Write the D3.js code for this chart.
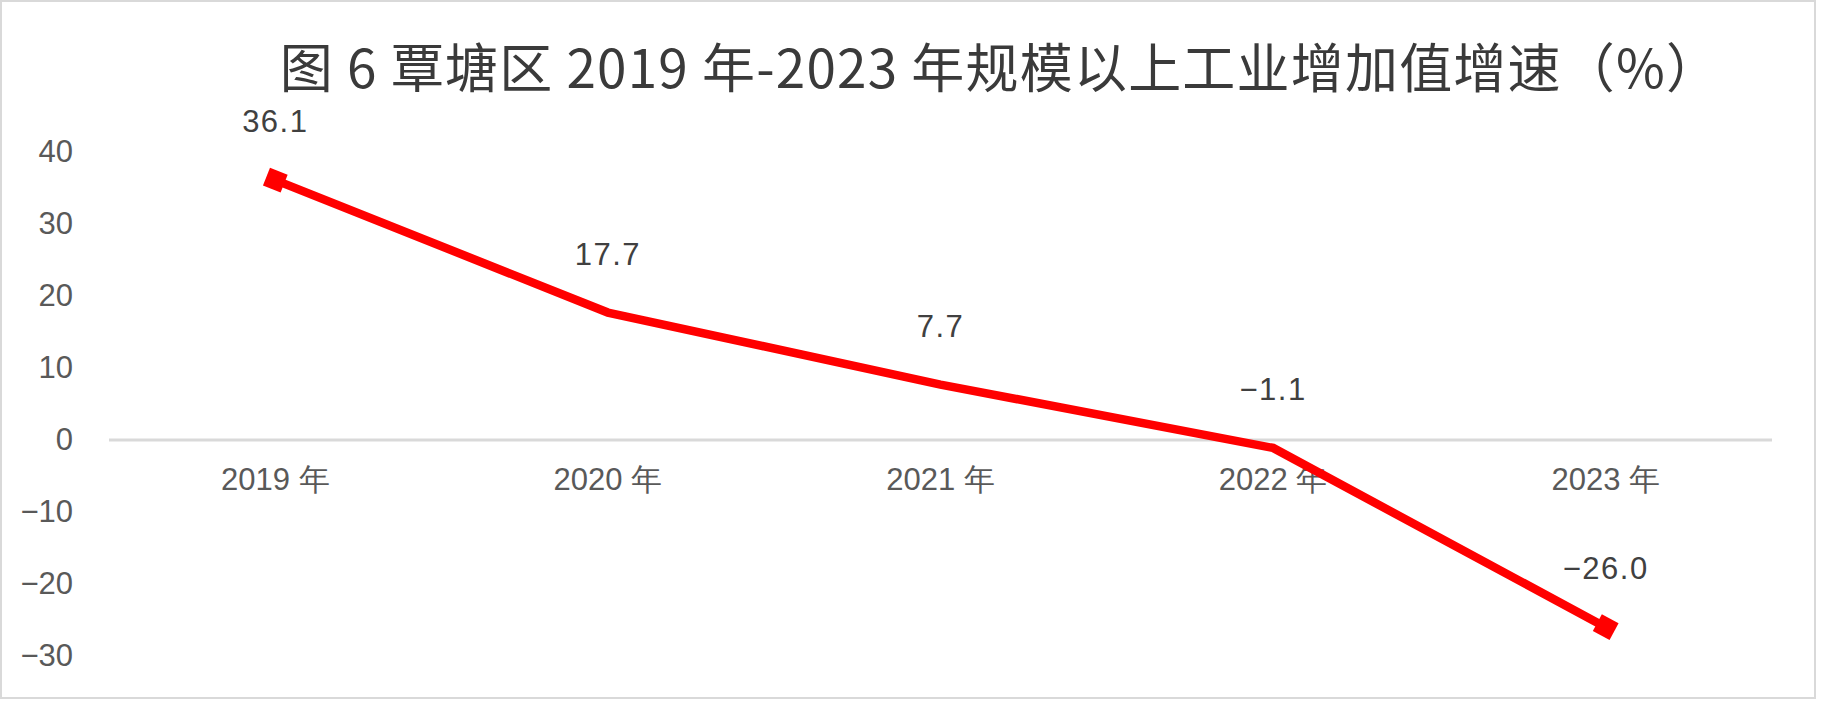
<!DOCTYPE html>
<html>
<head>
<meta charset="utf-8">
<script src="https://cdn.jsdelivr.net/npm/d3@7/dist/d3.min.js"></script>
<style>
  body { margin: 0; background: #fff; }
  svg { display: block; }
</style>
</head>
<body>
<svg id="chart" width="1824" height="703"></svg>
<script>
// chart data
var years = ["2019 年", "2020 年", "2021 年", "2022 年", "2023 年"];
var growth = [36.1, 17.7, 7.7, -1.1, -26.0];
var yTicks = [-30, -20, -10, 0, 10, 20, 30, 40];
var title = "图 6 覃塘区 2019 年-2023 年规模以上工业增加值增速（%）";

var W = 1824, H = 703;
var plot = { left: 109, right: 1772, top: 152, bottom: 656 };

var svg = d3.select("#chart");

// outer border
svg.append("rect")
  .attr("x", 1).attr("y", 1)
  .attr("width", 1814).attr("height", 697)
  .attr("fill", "#fff")
  .attr("stroke", "#d9d9d9")
  .attr("stroke-width", 2);

var x = d3.scaleBand()
  .domain(years)
  .range([plot.left, plot.right])
  .padding(0);

var y = d3.scaleLinear()
  .domain([-30, 40])
  .range([plot.bottom, plot.top]);

var cx = function(d, i) { return x(years[i]) + x.bandwidth() / 2; };

// title
svg.append("text")
  .attr("x", 1000)
  .attr("y", 88)
  .attr("text-anchor", "middle")
  .attr("font-family", "'Noto Sans CJK SC', sans-serif")
  .attr("font-size", 53)
  .attr("letter-spacing", 1.2)
  .attr("fill", "#3a3a3a")
  .text(title);

// y axis labels (no line)
var yAxis = svg.append("g")
  .attr("transform", "translate(" + plot.left + ",0)")
  .call(d3.axisLeft(y).tickValues(yTicks).tickSize(0).tickPadding(36));
yAxis.select(".domain").remove();
yAxis.selectAll("text")
  .attr("font-family", "'Liberation Sans', Arial, sans-serif")
  .attr("font-size", 31)
  .attr("fill", "#595959");

// zero line
svg.append("line")
  .attr("x1", plot.left).attr("x2", plot.right)
  .attr("y1", y(0)).attr("y2", y(0))
  .attr("stroke", "#d9d9d9")
  .attr("stroke-width", 3);

// category labels at the zero line
var xAxis = svg.append("g")
  .attr("transform", "translate(0," + y(0) + ")")
  .call(d3.axisBottom(x).tickSize(0).tickPadding(28));
xAxis.select(".domain").remove();
xAxis.selectAll("text")
  .attr("font-family", "'Liberation Sans', Arial, sans-serif")
  .attr("font-size", 31)
  .attr("fill", "#595959");

// line
var line = d3.line()
  .x(cx)
  .y(function(d) { return y(d); });

svg.append("path")
  .datum(growth)
  .attr("d", line)
  .attr("fill", "none")
  .attr("stroke", "#ff0000")
  .attr("stroke-width", 8.5)
  .attr("stroke-linejoin", "miter");

// end markers, turned along the end segment
var ends = [0, growth.length - 1];
svg.selectAll(".marker")
  .data(ends)
  .enter().append("rect")
  .attr("class", "marker")
  .attr("x", -9.5).attr("y", -9.5)
  .attr("width", 19).attr("height", 19)
  .attr("fill", "#ff0000")
  .attr("transform", function(i) {
    var j = i === 0 ? 1 : i - 1;
    var a = Math.atan2(y(growth[j]) - y(growth[i]), cx(null, j) - cx(null, i)) * 180 / Math.PI;
    return "translate(" + cx(null, i) + "," + y(growth[i]) + ") rotate(" + a + ")";
  });

// data labels
var fmt = d3.format(".1f");
svg.selectAll(".dlabel")
  .data(growth)
  .enter().append("text")
  .attr("class", "dlabel")
  .attr("x", cx)
  .attr("y", function(d) { return y(d) - 48; })
  .attr("text-anchor", "middle")
  .attr("font-family", "'Liberation Sans', Arial, sans-serif")
  .attr("font-size", 31)
  .attr("letter-spacing", 1.5)
  .attr("fill", "#404040")
  .text(function(d) { return fmt(d); });
</script>
</body>
</html>
